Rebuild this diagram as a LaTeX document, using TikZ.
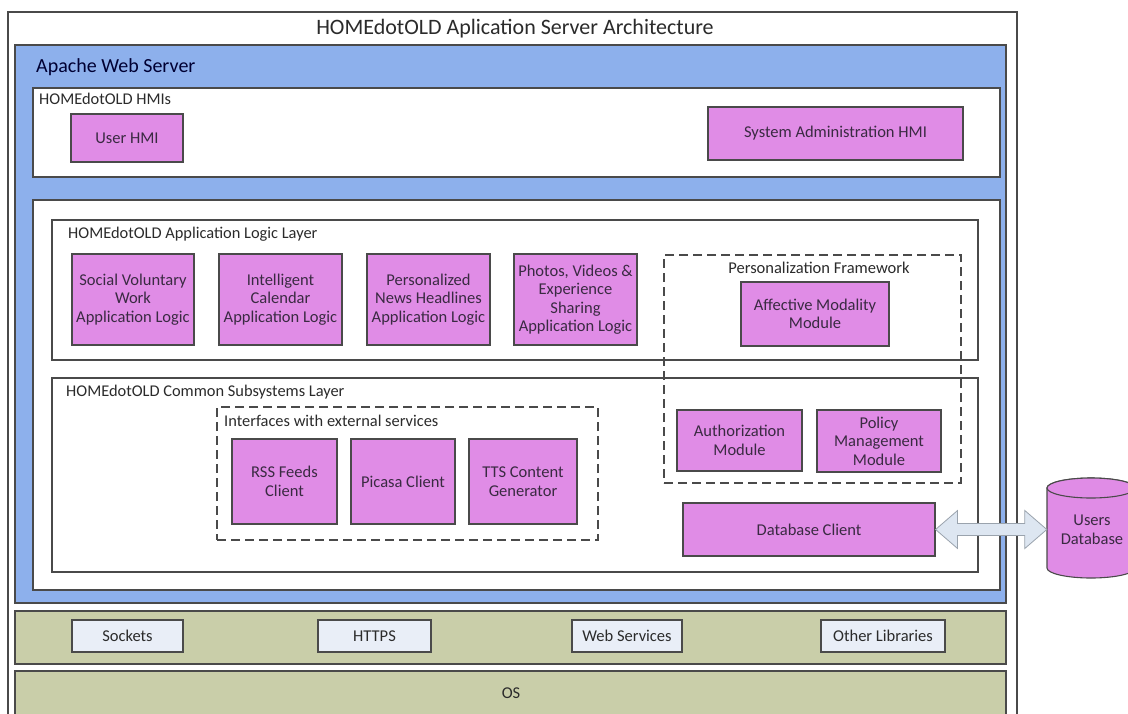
\documentclass[tikz,border=0pt]{standalone}
\usepackage{fontspec}
\setmainfont{Carlito}
\usetikzlibrary{calc}

\definecolor{edgegray}{HTML}{4A4A4A}
\definecolor{apacheblue}{HTML}{8DB0EC}
\definecolor{modpink}{HTML}{E08CE6}
\definecolor{libolive}{HTML}{C9CEA9}
\definecolor{libbox}{HTML}{E9EEF7}
\definecolor{linkfill}{HTML}{DDE6F1}
\definecolor{linkedge}{HTML}{9AA3AD}
\definecolor{inktext}{HTML}{2B2B2B}
\definecolor{modtext}{HTML}{3A2A42}

\tikzset{
  x=1pt, y=-1pt,
  frame/.style={draw=edgegray, line width=1.1pt, inner sep=0pt},
  panel/.style={frame, fill=white},
  module/.style={frame, fill=modpink, align=center, text=modtext,
    font=\fontsize{16.5}{18.5}\selectfont},
  libitem/.style={frame, fill=libbox, align=center, text=inktext,
    font=\fontsize{16.5}{18}\selectfont},
  group/.style={draw=edgegray, line width=1.1pt, dash pattern=on 9pt off 5pt, inner sep=0pt},
  caption/.style={anchor=west, inner sep=0pt, text=inktext,
    font=\fontsize{16.4}{18}\selectfont},
}

% box given by its corner coordinates: style, name, x1, y1, x2, y2, text
\newcommand\placebox[7]{%
  \pgfmathsetmacro\bw{#5-#3}\pgfmathsetmacro\bh{#6-#4}%
  \node[#1, minimum width=\bw pt, minimum height=\bh pt]
    (#2) at ({(#3+#5)/2},{(#4+#6)/2}) {#7};}

\begin{document}
\begin{tikzpicture}
\useasboundingbox (0,0) rectangle (1128,713);
\fill[white] (0,0) rectangle (1128,713);

% outer frame and title
\placebox{frame, fill=white}{server}{8}{12}{1017}{730}{}
\node[inner sep=0pt, text=inktext, font=\fontsize{22}{26}\selectfont] (title) at (515,29)
  {HOMEdotOLD Aplication Server Architecture};

% Apache web server
\placebox{frame, fill=apacheblue}{apache}{15}{45}{1006}{603}{}
\node[anchor=west, inner sep=0pt, text=black!80!blue, font=\fontsize{20}{24}\selectfont]
  (apachecap) at (36,67) {Apache Web Server};

% HMI layer
\placebox{panel}{hmis}{33}{88}{1000}{177}{}
\node[caption] (hmiscap) at (39,99) {HOMEdotOLD HMIs};
\placebox{module}{userhmi}{71}{114}{183}{162}{User HMI}
\placebox{module}{adminhmi}{708}{107}{963}{160}{System Administration HMI}

% application area
\placebox{panel}{apparea}{33}{200}{1000}{590}{}

% application logic layer
\placebox{frame}{logic}{52}{220}{978}{360}{}
\node[caption] (logiccap) at (68,234) {HOMEdotOLD Application Logic Layer};
\placebox{module}{social}{72}{254}{194}{345}{Social Voluntary\\Work\\Application Logic}
\placebox{module}{calendar}{219}{254}{342}{345}{Intelligent\\Calendar\\Application Logic}
\placebox{module}{news}{367}{254}{490}{345}{Personalized\\News Headlines\\Application Logic}
\placebox{module}{photos}{514}{254}{637}{345}{Photos, Videos \&\\Experience\\Sharing\\Application Logic}

% common subsystems layer
\placebox{frame}{common}{52}{378}{978}{572}{}
\node[caption] (commoncap) at (66,392) {HOMEdotOLD Common Subsystems Layer};

% personalization framework (spans both layers)
\placebox{group}{persfw}{664}{255}{961}{483}{}
\node[inner sep=0pt, text=inktext, font=\fontsize{16.5}{18}\selectfont] (persfwcap) at (819,268)
  {Personalization Framework};
\placebox{module}{affective}{741}{282}{889}{346}{Affective Modality\\Module}
\placebox{module}{authz}{677}{410}{802}{471}{Authorization\\Module}
\placebox{module}{policy}{817}{410}{941}{472}{Policy\\Management\\Module}

% interfaces with external services
\placebox{group}{ifaces}{217}{407}{598}{540}{}
\node[caption] (ifacescap) at (224,421) {Interfaces with external services};
\placebox{module}{rss}{232}{439}{337}{524}{RSS Feeds\\Client}
\placebox{module}{picasa}{351}{439}{455}{524}{Picasa Client}
\placebox{module}{tts}{469}{439}{577}{524}{TTS Content\\Generator}

% database client
\placebox{module}{dbclient}{683}{503}{935}{556}{Database Client}

% users database (cylinder)
\node[inner sep=0pt, minimum width=88pt, minimum height=100pt] (usersdb) at (1091,528) {};
\draw[edgegray, line width=1.1pt, fill=modpink]
  (1047,488) -- (1047,568) arc[start angle=180, end angle=360, x radius=44pt, y radius=10pt]
  -- (1135,488) arc[start angle=0, end angle=180, x radius=44pt, y radius=10pt] -- cycle;
\draw[edgegray, line width=1.1pt, fill=modpink] (1091,488) ellipse[x radius=44pt, y radius=10pt];
\node[inner sep=0pt, align=center, text=modtext, font=\fontsize{16.5}{18.5}\selectfont]
  (usersdbcap) at (1092,530) {Users\\Database};

% link between database client and users database
\path let \p1=(dbclient.east), \p2=(usersdb.west) in
  [draw=linkedge, fill=linkfill, line width=0.8pt]
  (\x1,\y1) -- (\x1+22pt,\y1+19pt) -- (\x1+22pt,\y1+6pt) -- (\x2-22pt,\y1+6pt)
  -- (\x2-22pt,\y1+19pt) -- (\x2,\y1) -- (\x2-22pt,\y1-19pt) -- (\x2-22pt,\y1-6pt)
  -- (\x1+22pt,\y1-6pt) -- (\x1+22pt,\y1-19pt) -- cycle;

% libraries layer
\placebox{frame, fill=libolive}{libs}{15}{611}{1006}{664}{}
\placebox{libitem}{sockets}{72}{620}{183}{652}{Sockets}
\placebox{libitem}{https}{318}{620}{431}{652}{HTTPS}
\placebox{libitem}{websvc}{572}{620}{682}{652}{Web Services}
\placebox{libitem}{otherlibs}{821}{620}{945}{652}{Other Libraries}

% operating system
\placebox{frame, fill=libolive}{os}{15}{671}{1006}{730}{}
\node[inner sep=0pt, text=inktext, font=\fontsize{16.5}{18}\selectfont] (oscap) at (511,693) {OS};
\end{tikzpicture}
\end{document}
